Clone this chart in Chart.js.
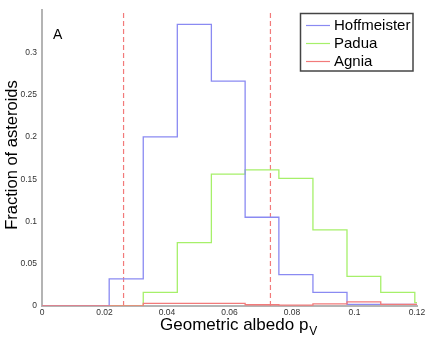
<!DOCTYPE html>
<html>
<head>
<meta charset="utf-8">
<script src="https://cdn.jsdelivr.net/npm/chart.js@4.4.0/dist/chart.umd.min.js"></script>
<style>
  html, body { margin: 0; padding: 0; background: #fff; }
  #wrap { width: 429px; height: 340px; }
</style>
</head>
<body>
<div id="wrap"><canvas id="albedoChart" width="429" height="340"></canvas></div>
<script>
// left edge of every histogram step, the last one closes the axis at 0.12
var binEdges = [0, 0.0215, 0.0324, 0.0433, 0.0542, 0.065, 0.0758, 0.0867, 0.0976, 0.1084, 0.1193, 0.12];
var hoffmeister = [0, 0.032, 0.200, 0.333, 0.266, 0.105, 0.037, 0.016, 0.002, 0.002, 0.002, 0.002];
var padua = [0, 0, 0.016, 0.075, 0.156, 0.161, 0.151, 0.090, 0.035, 0.016, 0.004, 0.004];
var agnia = [0, 0, 0.003, 0.003, 0.003, 0.0015, 0.001, 0.0025, 0.0048, 0.002, 0.002, 0.002];
var meanLines = [0.0261, 0.0731];
var xTicks = [0, 0.02, 0.04, 0.06, 0.08, 0.1, 0.12];
var yTicks = [0, 0.05, 0.1, 0.15, 0.2, 0.25, 0.3];

var colHoff = '#8a8af2';
var colPadua = '#a6f06a';
var colAgnia = '#f27a7a';

function steps(vals) {
    var pts = [];
    for (var i = 0; i < binEdges.length; i++) {
        pts.push({x: binEdges[i], y: vals[i]});
    }
    return pts;
}

var datasets = [
    {label: 'Hoffmeister', data: steps(hoffmeister), borderColor: colHoff},
    {label: 'Padua', data: steps(padua), borderColor: colPadua},
    {label: 'Agnia', data: steps(agnia), borderColor: colAgnia, order: -1}
];
datasets.forEach(function (d) {
    d.stepped = 'before';
    d.borderWidth = 1.3;
    d.pointRadius = 0;
    d.fill = false;
});
meanLines.forEach(function (m) {
    datasets.push({
        label: 'mean',
        data: [{x: m, y: 0}, {x: m, y: 0.35}],
        borderColor: colAgnia,
        borderWidth: 1.2,
        borderDash: [5, 3],
        pointRadius: 0,
        fill: false
    });
});

var extras = {
    id: 'extras',
    afterDraw: function (chart) {
        var ctx = chart.ctx;
        var area = chart.chartArea;
        ctx.save();
        ctx.fillStyle = '#000';
        ctx.textBaseline = 'alphabetic';
        ctx.textAlign = 'left';
        ctx.font = '14px "Liberation Sans", Arial, sans-serif';
        ctx.fillText('A', area.left + 11, area.top + 29);

        // x title with subscript
        ctx.font = '17px "Liberation Sans", Arial, sans-serif';
        var t = 'Geometric albedo p';
        ctx.fillText(t, 160, 330);
        var w = ctx.measureText(t).width;
        ctx.font = '12px "Liberation Sans", Arial, sans-serif';
        ctx.fillText('V', 160 + w + 1, 335);

        // y title
        ctx.save();
        ctx.translate(12, 155);
        ctx.rotate(-Math.PI / 2);
        ctx.textAlign = 'center';
        ctx.textBaseline = 'middle';
        ctx.font = '16.5px "Liberation Sans", Arial, sans-serif';
        ctx.fillText('Fraction of asteroids', 0, 0);
        ctx.restore();

        // legend box
        ctx.fillStyle = '#fff';
        ctx.fillRect(300, 13, 113, 58);
        ctx.strokeStyle = '#444';
        ctx.lineWidth = 1.5;
        ctx.strokeRect(300.5, 13.5, 112.5, 57.5);
        ctx.font = '15px "Liberation Sans", Arial, sans-serif';
        ctx.textBaseline = 'middle';
        for (var i = 0; i < 3; i++) {
            var y = 25 + i * 18;
            ctx.strokeStyle = datasets[i].borderColor;
            ctx.lineWidth = 1.2;
            ctx.beginPath();
            ctx.moveTo(306, y + 0.5);
            ctx.lineTo(330, y + 0.5);
            ctx.stroke();
            ctx.fillStyle = '#000';
            ctx.fillText(datasets[i].label, 334, y + 1);
        }
        ctx.restore();
    }
};

var tickFont = {family: '"Liberation Sans", Arial, sans-serif', size: 8.5};

var chart = new Chart(document.getElementById('albedoChart'), {
    type: 'line',
    data: {datasets: datasets},
    options: {
        responsive: false,
        animation: false,
        layout: {padding: {left: 0, right: 12, top: 10, bottom: 0}},
        plugins: {legend: {display: false}, tooltip: {enabled: false}},
        scales: {
            x: {
                type: 'linear',
                min: 0,
                max: 0.12,
                afterBuildTicks: function (axis) {
                    axis.ticks = xTicks.map(function (v) { return {value: v}; });
                },
                afterFit: function (axis) { axis.height = 34; },
                grid: {display: false, drawTicks: false},
                border: {display: true, color: '#b4b4b4', width: 2},
                ticks: {
                    padding: 2,
                    color: '#333',
                    font: tickFont,
                    maxRotation: 0,
                    callback: function (v) { return String(v); }
                }
            },
            y: {
                min: 0,
                max: 0.35,
                afterBuildTicks: function (axis) {
                    axis.ticks = yTicks.map(function (v) { return {value: v}; });
                },
                afterFit: function (axis) { axis.width = 42; },
                grid: {display: false, drawTicks: false},
                border: {display: true, color: '#b4b4b4', width: 2},
                ticks: {
                    padding: 5,
                    color: '#333',
                    font: tickFont,
                    callback: function (v) { return String(v); }
                }
            }
        }
    },
    plugins: [extras]
});
</script>
</body>
</html>
